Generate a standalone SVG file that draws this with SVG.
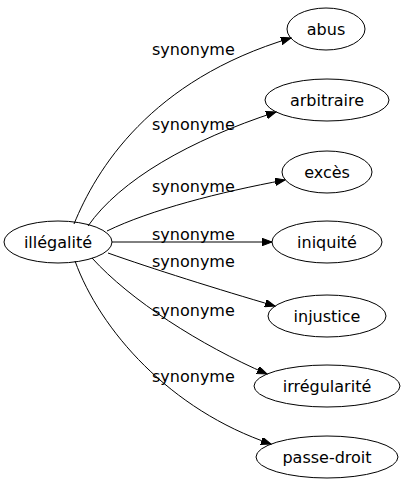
<svg xmlns="http://www.w3.org/2000/svg" width="406" height="491" viewBox="0 0 406 491">
<style>
.node ellipse{fill:none;stroke:#000;stroke-width:1}
.node text{font-family:"DejaVu Sans",sans-serif;font-size:16px;text-anchor:middle;fill:#000}
.edges path{fill:none;stroke:#000;stroke-width:1;marker-end:url(#arr)}
.lbl{font-family:"DejaVu Sans",sans-serif;font-size:16px;fill:#000}
</style>
<defs>
<marker id="arr" markerUnits="userSpaceOnUse" markerWidth="11" markerHeight="8" refX="10" refY="3.75" orient="auto">
<path d="M0,0 L10,3.75 L0,7.5 z" fill="#000" stroke="#000" stroke-width="1"/>
</marker>
</defs>
<rect width="406" height="491" fill="#fff"/>
<g class="edges" id="edges">
<path d="M74,224 C96,170 150,80 291,38"/>
<path d="M88,226 C120,180 190,140 276,112"/>
<path d="M107,231 C150,210 220,192 285,180"/>
<path d="M112,242 L272,242"/>
<path d="M108,253 C150,268 220,290 275,306"/>
<path d="M92,258 C130,300 200,345 267,374"/>
<path d="M75,261 C100,330 170,410 271,444"/>
<text class="lbl" x="152" y="55">synonyme</text>
<text class="lbl" x="152" y="130">synonyme</text>
<text class="lbl" x="152" y="192">synonyme</text>
<text class="lbl" x="152" y="240">synonyme</text>
<text class="lbl" x="152" y="267">synonyme</text>
<text class="lbl" x="152" y="316">synonyme</text>
<text class="lbl" x="152" y="382">synonyme</text>
</g>
<g class="node" id="illegalite"><ellipse cx="58" cy="242" rx="54" ry="21"/><text x="58" y="248">illégalité</text></g>
<g class="node" id="abus"><ellipse cx="326" cy="29" rx="39" ry="21"/><text x="326" y="35">abus</text></g>
<g class="node" id="arbitraire"><ellipse cx="327" cy="100" rx="62" ry="21"/><text x="327" y="106">arbitraire</text></g>
<g class="node" id="exces"><ellipse cx="327" cy="172" rx="45" ry="21"/><text x="327" y="178">excès</text></g>
<g class="node" id="iniquite"><ellipse cx="327" cy="242" rx="55" ry="21"/><text x="327" y="248">iniquité</text></g>
<g class="node" id="injustice"><ellipse cx="327" cy="316" rx="59" ry="21"/><text x="327" y="322">injustice</text></g>
<g class="node" id="irregularite"><ellipse cx="327" cy="386" rx="73" ry="21"/><text x="327" y="392">irrégularité</text></g>
<g class="node" id="passe-droit"><ellipse cx="327" cy="457" rx="71" ry="21"/><text x="327" y="463">passe-droit</text></g>
</svg>
